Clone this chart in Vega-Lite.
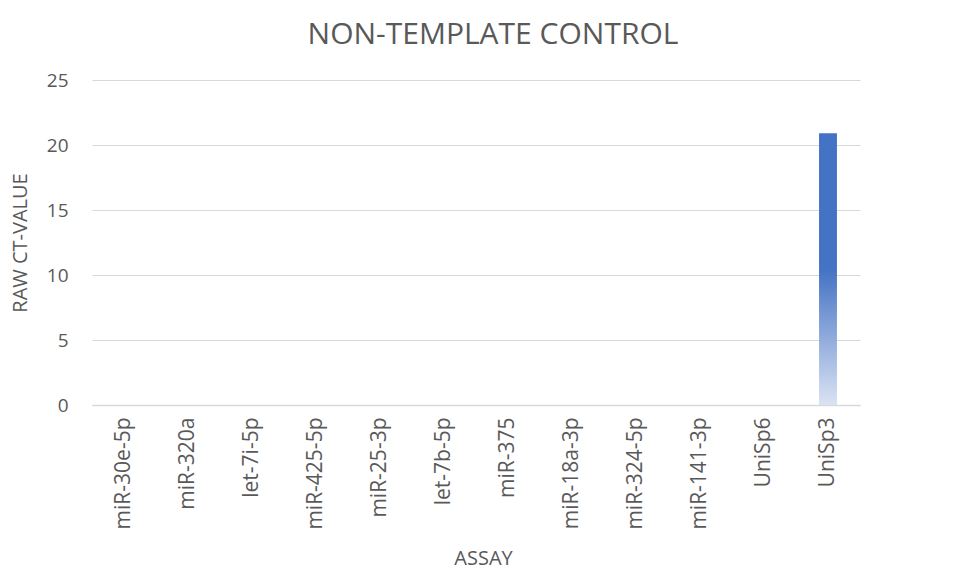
{
  "$schema": "https://vega.github.io/schema/vega-lite/v6.json",
  "width": 768,
  "height": 325,
  "autosize": {"type": "none"},
  "padding": {"left": 92, "top": 80, "right": 106, "bottom": 165},
  "background": "white",
  "title": {
    "text": "NON-TEMPLATE CONTROL",
    "font": "Open Sans",
    "fontSize": 30,
    "fontWeight": "normal",
    "letterSpacing": 2.2,
    "color": "#595959",
    "anchor": "middle",
    "offset": 21,
    "frame": "group",
    "dx": 17
  },
  "data": {
    "values": [
      {"assay": "miR-30e-5p", "ct": 0},
      {"assay": "miR-320a", "ct": 0},
      {"assay": "let-7i-5p", "ct": 0},
      {"assay": "miR-425-5p", "ct": 0},
      {"assay": "miR-25-3p", "ct": 0},
      {"assay": "let-7b-5p", "ct": 0},
      {"assay": "miR-375", "ct": 0},
      {"assay": "miR-18a-3p", "ct": 0},
      {"assay": "miR-324-5p", "ct": 0},
      {"assay": "miR-141-3p", "ct": 0},
      {"assay": "UniSp6", "ct": 0},
      {"assay": "UniSp3", "ct": 20.9}
    ]
  },
  "mark": {
    "type": "bar",
    "color": {
      "gradient": "linear",
      "x1": 0, "y1": 1, "x2": 0, "y2": 0,
      "stops": [
        {"offset": 0, "color": "#dae3f3"},
        {"offset": 0.5, "color": "#4472c4"},
        {"offset": 1, "color": "#4472c4"}
      ]
    }
  },
  "encoding": {
    "x": {
      "field": "assay",
      "type": "nominal",
      "sort": null,
      "scale": {"paddingInner": 0.72, "paddingOuter": 0.36},
      "axis": {
        "title": "ASSAY",
        "titleFont": "Open Sans",
        "titleFontSize": 20,
        "titleFontWeight": "normal",
        "titleColor": "#595959",
        "titlePadding": 19,
        "titleX": 391,
        "labelAngle": -90,
        "labelFont": "Open Sans",
        "labelFontSize": 21,
        "labelColor": "#595959",
        "labelPadding": 12,
        "ticks": false,
        "domainColor": "#d9d9d9",
        "domainWidth": 1.5
      }
    },
    "y": {
      "field": "ct",
      "type": "quantitative",
      "scale": {"domain": [0, 25]},
      "axis": {
        "title": "RAW CT-VALUE",
        "titleFont": "Open Sans",
        "titleFontSize": 20,
        "titleFontWeight": "normal",
        "titleColor": "#595959",
        "titlePadding": 16,
        "values": [0, 5, 10, 15, 20, 25],
        "labelFont": "Open Sans",
        "labelFontSize": 19,
        "labelColor": "#595959",
        "labelPadding": 24,
        "ticks": false,
        "domain": false,
        "grid": true,
        "gridColor": "#d9d9d9",
        "gridWidth": 1
      }
    }
  },
  "config": {"view": {"stroke": null}}
}
